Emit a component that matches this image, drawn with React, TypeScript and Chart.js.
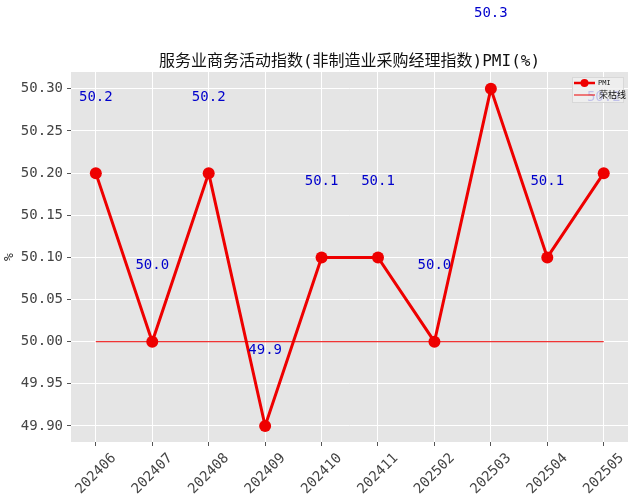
import { useEffect, useRef } from "react"
import { Chart, registerables } from "chart.js"

Chart.register(...registerables)

const categories = ["202406", "202407", "202408", "202409", "202410", "202411", "202502", "202503", "202504", "202505"]
const pmiValues = [50.2, 50.0, 50.2, 49.9, 50.1, 50.1, 50.0, 50.3, 50.1, 50.2]
const thresholdValue = 50.0
const yTicks = [49.9, 49.95, 50.0, 50.05, 50.1, 50.15, 50.2, 50.25, 50.3]

const TITLE = "服务业商务活动指数(非制造业采购经理指数)PMI(%)"
const MONO = "'DejaVu Sans Mono', 'Noto Sans CJK SC', sans-serif"
const LABEL_OFFSET = 0.09

// grey panel, title, value labels and legend
const decorPlugin = {
  id: "decor",
  beforeDraw(chart: any) {
    const { ctx, chartArea } = chart
    ctx.save()
    ctx.fillStyle = "#e5e5e5"
    ctx.fillRect(chartArea.left, chartArea.top, chartArea.right - chartArea.left, chartArea.bottom - chartArea.top)
    ctx.restore()
  },
  afterDraw(chart: any) {
    const { ctx, chartArea, scales } = chart
    const x = scales.x
    const y = scales.y
    ctx.save()
    // title
    ctx.fillStyle = "#111"
    ctx.font = `16px ${MONO}`
    ctx.textAlign = "center"
    ctx.textBaseline = "middle"
    ctx.fillText(TITLE, (chartArea.left + chartArea.right) / 2, 62)

    // value labels
    ctx.fillStyle = "#0000cc"
    ctx.font = `14px ${MONO}`
    pmiValues.forEach((v, i) => {
      ctx.fillText(v.toFixed(1), x.getPixelForValue(i), y.getPixelForValue(v + LABEL_OFFSET))
    })

    // legend
    const lx = chartArea.right - 56
    const ly = chartArea.top + 5
    ctx.fillStyle = "rgba(240,240,240,0.8)"
    ctx.strokeStyle = "#d8d8d8"
    ctx.lineWidth = 1
    ctx.fillRect(lx, ly, 51, 25)
    ctx.strokeRect(lx + 0.5, ly + 0.5, 51, 25)
    ctx.strokeStyle = "#ee0000"
    ctx.lineWidth = 2.5
    ctx.beginPath()
    ctx.moveTo(lx + 2, ly + 6)
    ctx.lineTo(lx + 23, ly + 6)
    ctx.stroke()
    ctx.fillStyle = "#ee0000"
    ctx.beginPath()
    ctx.arc(lx + 12.5, ly + 6, 4, 0, Math.PI * 2)
    ctx.fill()
    ctx.lineWidth = 1
    ctx.beginPath()
    ctx.moveTo(lx + 2, ly + 18)
    ctx.lineTo(lx + 23, ly + 18)
    ctx.stroke()
    ctx.fillStyle = "#111"
    ctx.textAlign = "left"
    ctx.font = `7px ${MONO}`
    ctx.fillText("PMI", lx + 26, ly + 6)
    ctx.font = `9px ${MONO}`
    ctx.fillText("荣枯线", lx + 27, ly + 19)
    ctx.restore()
  },
}

export default function App() {
  const chartRef = useRef<HTMLCanvasElement>(null)
  const chartInstance = useRef<Chart | null>(null)

  useEffect(() => {
    document.body.style.margin = "0"
    if (!chartRef.current) return
    if (chartInstance.current) chartInstance.current.destroy()
    const ctx = chartRef.current.getContext("2d")
    if (!ctx) return

    chartInstance.current = new Chart(ctx, {
      type: "line",
      data: {
        datasets: [
          {
            label: "PMI",
            data: pmiValues.map((v, i) => ({ x: i, y: v })),
            borderColor: "#ee0000",
            backgroundColor: "#ee0000",
            borderWidth: 3,
            pointRadius: 6,
            pointHoverRadius: 6,
            pointBorderWidth: 0,
            tension: 0,
          },
          {
            label: "荣枯线",
            data: [
              { x: 0, y: thresholdValue },
              { x: categories.length - 1, y: thresholdValue },
            ],
            borderColor: "#ee0000",
            borderWidth: 1,
            pointRadius: 0,
          },
        ],
      },
      options: {
        responsive: false,
        animation: false,
        layout: { padding: { top: 72, right: 7, left: 0, bottom: 0 } },
        scales: {
          x: {
            type: "linear",
            min: -0.44,
            max: categories.length - 1 + 0.43,
            afterBuildTicks: (s: any) => {
              s.ticks = categories.map((_, i) => ({ value: i }))
            },
            afterFit: (s: any) => {
              s.height = 58
            },
            ticks: {
              autoSkip: false,
              minRotation: 45,
              maxRotation: 45,
              padding: 4,
              labelOffset: 18,
              color: "#444",
              font: { family: MONO, size: 14 },
              callback: (v: any) => categories[v] ?? "",
            },
            grid: { color: "#ffffff", lineWidth: 1, tickColor: "#555", tickLength: 4 },
            border: { display: false },
          },
          y: {
            min: 49.881,
            max: 50.32,
            afterBuildTicks: (s: any) => {
              s.ticks = yTicks.map((v) => ({ value: v }))
            },
            afterFit: (s: any) => {
              s.width = 71
            },
            ticks: {
              padding: 4,
              color: "#444",
              font: { family: MONO, size: 14 },
              callback: (v: any) => Number(v).toFixed(2),
            },
            grid: { color: "#ffffff", lineWidth: 1, tickColor: "#555", tickLength: 4 },
            border: { display: false },
            title: { display: true, text: "%", color: "#222", font: { family: MONO, size: 13 }, padding: 2 },
          },
        },
        plugins: {
          legend: { display: false },
          title: { display: false },
          tooltip: { enabled: false },
        },
      },
      plugins: [decorPlugin],
    })

    return () => {
      if (chartInstance.current) {
        chartInstance.current.destroy()
        chartInstance.current = null
      }
    }
  }, [])

  return (
    <div style={{ width: 635, height: 500 }}>
      <canvas ref={chartRef} width={635} height={500} />
    </div>
  )
}
